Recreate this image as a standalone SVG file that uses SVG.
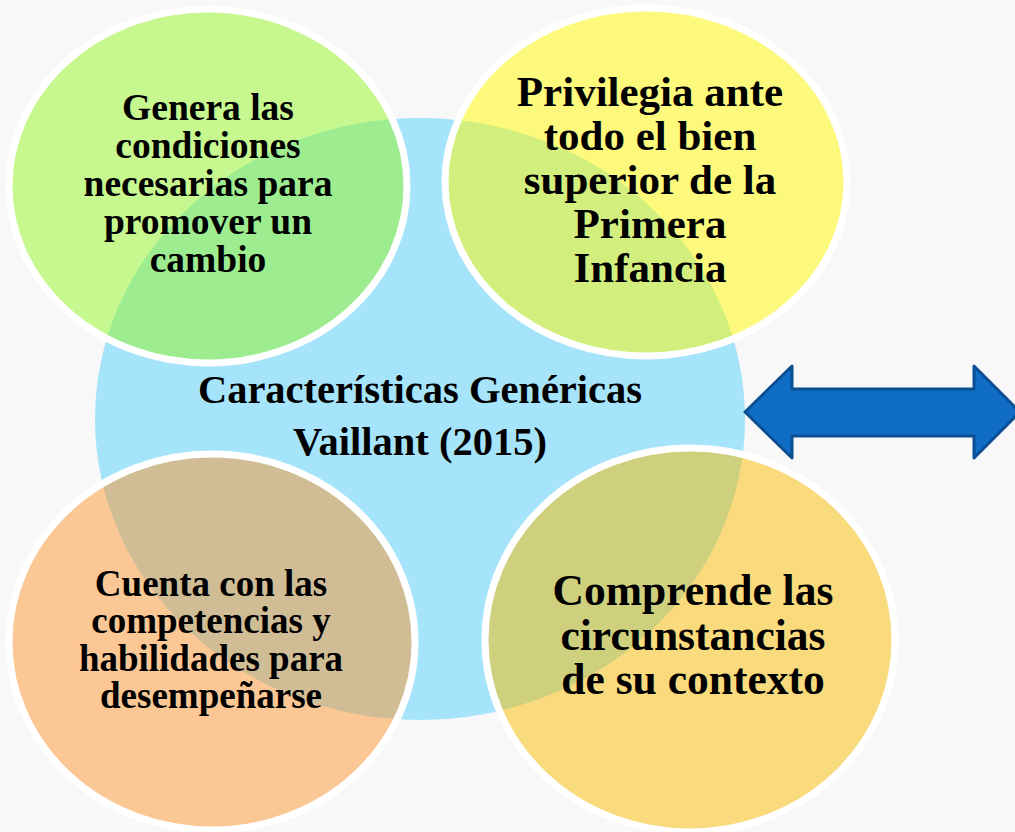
<svg xmlns="http://www.w3.org/2000/svg" width="1015" height="832" viewBox="0 0 1015 832">
  <style>
    .bubble { stroke: #FFFFFF; stroke-width: 7; fill-opacity: 0.5; }
    .txt { font-family: "Liberation Serif", "Times New Roman", serif; font-weight: bold; fill: #000000; text-anchor: middle; }
    .t1 { font-size: 37.5px; }
    .t2 { font-size: 43px; }
    .t3 { font-size: 37px; }
    .t4 { font-size: 43.5px; }
    .t5 { font-size: 40.5px; }
  </style>
  <rect x="0" y="0" width="1015" height="832" fill="#F8F8F8"/>
  <g id="center">
    <ellipse cx="420" cy="419" rx="325" ry="301" fill="#A5E4FA"/>
  </g>
  <g id="node-genera">
    <ellipse class="bubble" cx="208" cy="186" rx="199" ry="177" fill="#96F626"/>
    <text class="txt t1" x="208" y="120">Genera las</text>
    <text class="txt t1" x="208" y="158">condiciones</text>
    <text class="txt t1" x="208" y="196">necesarias para</text>
    <text class="txt t1" x="208" y="234">promover un</text>
    <text class="txt t1" x="208" y="272">cambio</text>
  </g>
  <g id="node-privilegia">
    <ellipse class="bubble" cx="646" cy="182" rx="201" ry="174" fill="#FFFA00"/>
    <text class="txt t2" x="650" y="106">Privilegia ante</text>
    <text class="txt t2" x="650" y="150">todo el bien</text>
    <text class="txt t2" x="650" y="194">superior de la</text>
    <text class="txt t2" x="650" y="238">Primera</text>
    <text class="txt t2" x="650" y="282">Infancia</text>
  </g>
  <g id="node-cuenta">
    <ellipse class="bubble" cx="212" cy="642" rx="203" ry="188" fill="#FC9632"/>
    <text class="txt t3" x="211" y="596">Cuenta con las</text>
    <text class="txt t3" x="211" y="633">competencias y</text>
    <text class="txt t3" x="211" y="671">habilidades para</text>
    <text class="txt t3" x="211" y="708">desempeñarse</text>
  </g>
  <g id="node-comprende">
    <ellipse class="bubble" cx="690" cy="640" rx="205" ry="192" fill="#FABC00"/>
    <text class="txt t4" x="693" y="605">Comprende las</text>
    <text class="txt t4" x="693" y="650">circunstancias</text>
    <text class="txt t4" x="693" y="694">de su contexto</text>
  </g>
  <g id="center-label">
    <text class="txt t5" x="420" y="403">Características Genéricas</text>
    <text class="txt t5" x="420" y="455">Vaillant (2015)</text>
  </g>
  <g id="connectors">
    <polygon points="745,412 792,366 792,389 974,389 974,366 1020,412 974,458 974,436 792,436 792,458" fill="#106DC5" stroke="#0B4F93" stroke-width="3" stroke-linejoin="round"/>
  </g>
</svg>
